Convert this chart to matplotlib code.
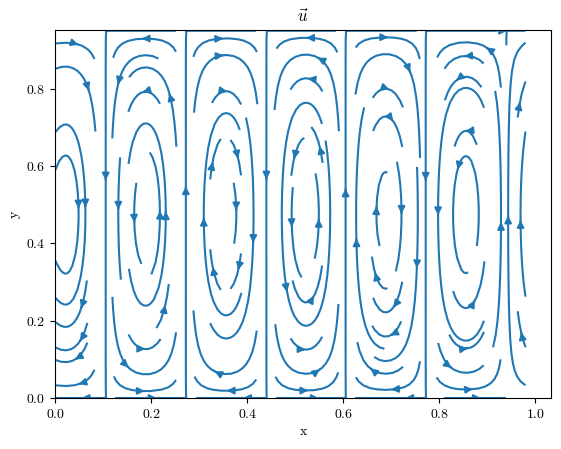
import matplotlib.pyplot as plt
import numpy as np

plt.rcParams["font.family"] = "serif"
plt.rcParams["font.serif"] = ["cmr10", "DejaVu Serif"]
plt.rcParams["mathtext.fontset"] = "cm"
plt.rcParams["axes.formatter.use_mathtext"] = True

# vertical separatrices between the counter-rotating cells
cell_edges = [-0.062, 0.105, 0.272, 0.440, 0.605, 0.772, 0.940, 1.107]
x_extent = [0.0, 0.98]
y_extent = [0.0, 0.95]

x = np.linspace(x_extent[0], x_extent[1], 60)
y = np.linspace(y_extent[0], y_extent[1], 60)
X, Y = np.meshgrid(x, y)

phase = np.interp(X, cell_edges, np.pi * np.arange(len(cell_edges)))
psi = np.sin(phase) * np.sin(np.pi * (Y - y_extent[0]) / (y_extent[1] - y_extent[0]))
dpsi_dy, dpsi_dx = np.gradient(psi, y, x)
# first cell turns clockwise: downward flow along x = 0.105
u = -dpsi_dy
v = dpsi_dx

fig = plt.figure(figsize=(5.61, 4.49), dpi=100)
ax = fig.add_axes([0.0986, 0.1136, 0.8834, 0.8196])
ax.streamplot(X, Y, u, v, color="#1f77b4")
ax.set_xlim(0, 1.033)
ax.set_ylim(0, 0.952)
ax.set_title(r"$\vec{u}$")
ax.set_xlabel("x")
ax.set_ylabel("y")
fig.savefig("out.png", dpi=100)
